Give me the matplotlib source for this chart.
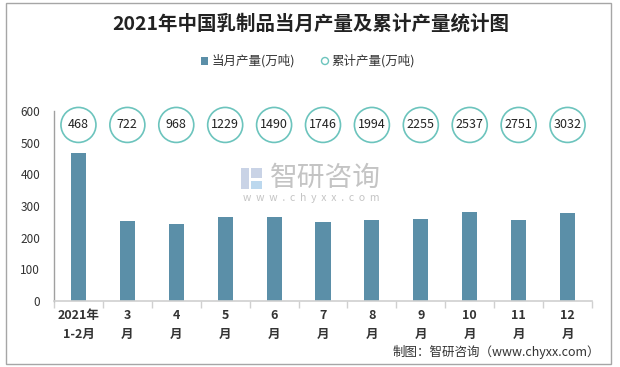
import matplotlib
matplotlib.use("Agg")
import matplotlib.pyplot as plt
from matplotlib.patches import Rectangle, Ellipse

plt.rcParams['font.family'] = ['Noto Sans CJK SC', 'DejaVu Sans']

categories = ["2021年\n1-2月", "3\n月", "4\n月", "5\n月", "6\n月", "7\n月",
              "8\n月", "9\n月", "10\n月", "11\n月", "12\n月"]
monthly = [468, 253, 243, 265, 265, 249, 256, 259, 281, 256, 278]
cumulative = [468, 722, 968, 1229, 1490, 1746, 1994, 2255, 2537, 2751, 3032]
yticks = [0, 100, 200, 300, 400, 500, 600]

W, H = 620, 367
fig = plt.figure(figsize=(W / 100, H / 100), dpi=100)
fig.patch.set_facecolor('white')

# outer border
fig.add_artist(Rectangle((6 / W, 3 / H), 605 / W, 361 / H, transform=fig.transFigure,
                         fill=False, edgecolor='#a6a6a6', linewidth=1.0))

ax = fig.add_axes([54 / W, (H - 301) / H, (592 - 54) / W, 190 / H])
x = list(range(len(categories)))
ax.bar(x, monthly, width=0.31, color='#5b8fa8', zorder=2)

ax.set_xlim(-0.5, len(categories) - 0.5)
ax.set_ylim(0, 600)
ax.set_yticks(yticks)
ax.set_yticklabels([str(v) for v in yticks], fontsize=8.5, color='#333333')
ax.tick_params(axis='y', length=0, pad=10)
ax.set_xticks(x)
ax.set_xticklabels(categories, fontsize=9, fontweight='bold', color='#333333', linespacing=1.6)
ax.tick_params(axis='x', length=0, pad=6)
# category boundary ticks
ax.set_xticks([i - 0.5 for i in range(len(categories) + 1)], minor=True)
ax.tick_params(axis='x', which='minor', length=5, color='#d0d0d0', width=1)

for s in ['top', 'right']:
    ax.spines[s].set_visible(False)
ax.spines['left'].set_color('#a0a0a0')
ax.spines['bottom'].set_color('#d0d0d0')
ax.spines['left'].set_linewidth(1)
ax.spines['bottom'].set_linewidth(1.2)

# cumulative circles
circle_y = 556
rx = 17.5 / 48.9  # data units in x
ry = 17.5 / (190 / 600)
for xi, c in zip(x, cumulative):
    e = Ellipse((xi, circle_y), 2 * rx, 2 * ry, facecolor='white', edgecolor='#6cc4bd',
                linewidth=1.2, clip_on=False, zorder=3)
    ax.add_patch(e)
    ax.text(xi, circle_y, str(c), ha='center', va='center', fontsize=9,
            color='#222222', zorder=4, clip_on=False)

# watermark
fig.text(325 / W, (H - 178) / H, "智研咨询", ha='center', va='center',
         fontsize=20, color='#c4c4c4')
fig.text(311 / W, (H - 198) / H, "w  w  w  .  c  h  y  x  x  .  c  o  m", ha='center', va='center',
         fontsize=7.5, color='#c4c4c4')
# logo approximation
fig.add_artist(Rectangle((241 / W, (H - 189) / H), 8 / W, 21 / H, transform=fig.transFigure,
                         facecolor='#c9d3e6', edgecolor='none'))
fig.add_artist(Rectangle((251 / W, (H - 189) / H), 11 / W, 8 / H, transform=fig.transFigure,
                         facecolor='#bcd8ee', edgecolor='none'))
fig.add_artist(Rectangle((251 / W, (H - 178) / H), 11 / W, 10 / H, transform=fig.transFigure,
                         facecolor='#c9d3e6', edgecolor='none'))

# title
fig.text(311 / W, (H - 24) / H, "2021年中国乳制品当月产量及累计产量统计图", ha='center', va='center',
         fontsize=14, fontweight='bold', color='#222222')

# legend
fig.add_artist(Rectangle((201 / W, (H - 65) / H), 7 / W, 8 / H, transform=fig.transFigure,
                         facecolor='#5b8fa8', edgecolor='none'))
fig.text(212 / W, (H - 61) / H, "当月产量(万吨)", ha='left', va='center', fontsize=9, color='#333333')
fig.add_artist(Ellipse((325 / W, (H - 61) / H), 7 / W, 7 / H, transform=fig.transFigure,
                       facecolor='white', edgecolor='#6cc4bd', linewidth=1))
fig.text(331 / W, (H - 61) / H, "累计产量(万吨)", ha='left', va='center', fontsize=9, color='#333333')

# footer
fig.text(600 / W, (H - 352) / H, "制图：智研咨询（www.chyxx.com）", ha='right', va='center',
         fontsize=9, color='#333333')

fig.savefig("out.png", dpi=100, facecolor='white')
